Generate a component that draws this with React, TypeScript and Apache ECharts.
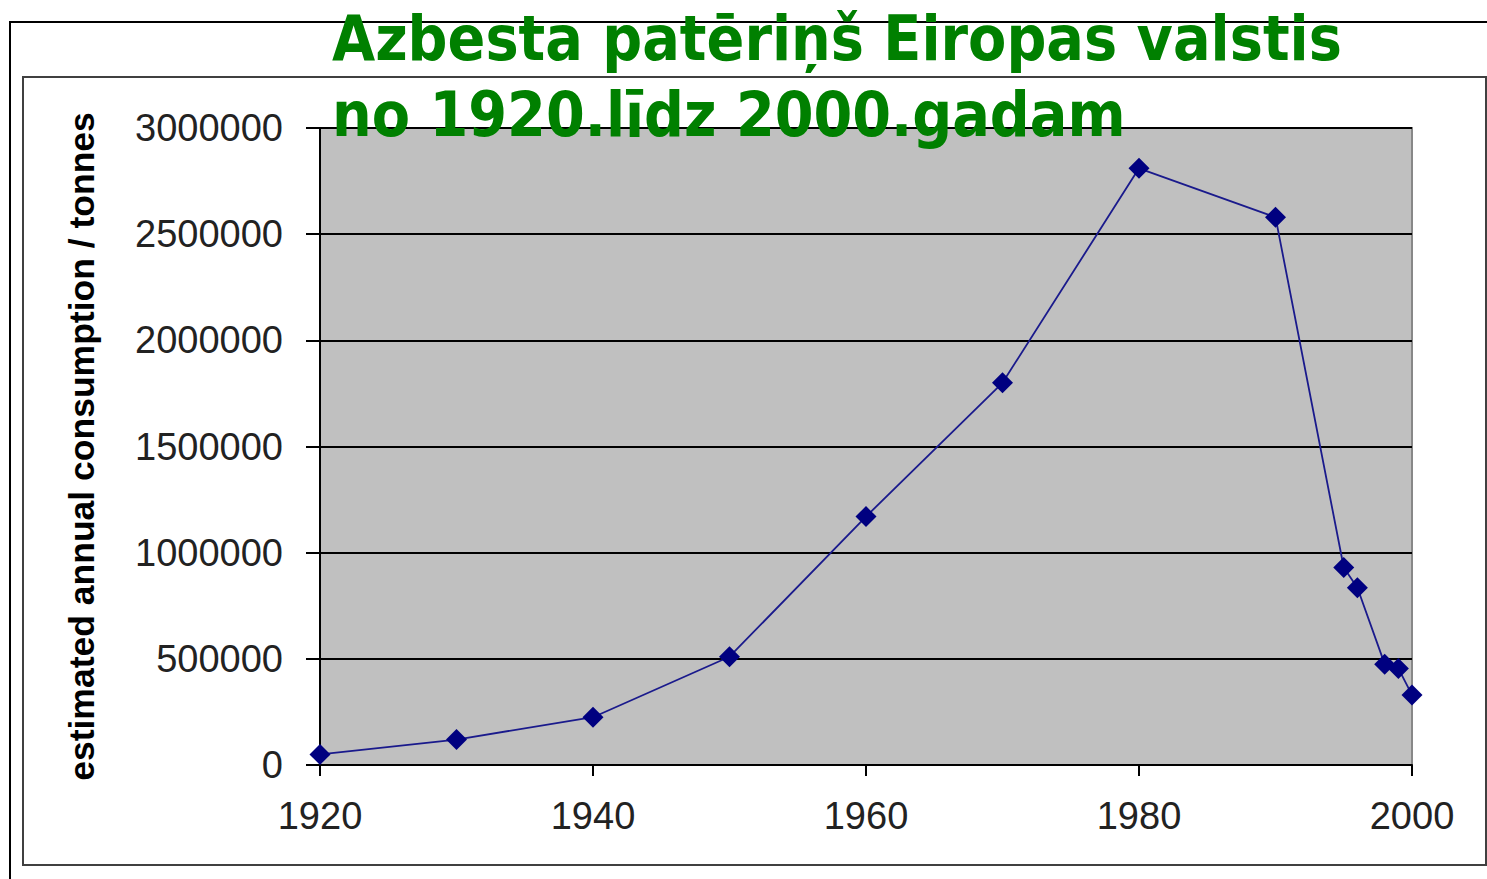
import React, { useEffect, useRef } from "react";
import * as echarts from "echarts";

const years = [1920, 1930, 1940, 1950, 1960, 1970, 1980, 1990, 1995, 1996, 1998, 1999, 2000];
const consumption = [50000, 120000, 225000, 510000, 1170000, 1800000, 2810000, 2580000, 930000, 835000, 475000, 455000, 330000];
const titleLines = ["Azbesta patēriņš Eiropas valstis", "no 1920.līdz 2000.gadam"];
const yAxisName = "estimated annual consumption / tonnes";

export default function App() {
  const ref = useRef<HTMLDivElement>(null);
  useEffect(() => {
    document.body.style.margin = "0";
    const chart = echarts.init(ref.current!, undefined, { renderer: "svg" });
    chart.setOption({
      animation: false,
      backgroundColor: "#ffffff",
      title: {
        text: titleLines.join("\n"),
        left: 332,
        top: 0,
        padding: 0,
        textStyle: {
          color: "#008000",
          fontSize: 62,
          fontWeight: "bold",
          fontFamily: "DejaVu Sans Condensed, DejaVu Sans",
          lineHeight: 76,
        },
        z: 10,
      },
      graphic: [
        { type: "rect", shape: { x: 10, y: 22, width: 1490, height: 900 }, style: { fill: "none", stroke: "#000", lineWidth: 2 }, z: -10 },
        { type: "rect", shape: { x: 23, y: 77, width: 1463, height: 788 }, style: { fill: "none", stroke: "#404040", lineWidth: 2 }, z: -10 },
      ],
      grid: {
        left: 320,
        top: 128,
        width: 1092,
        height: 637,
        show: true,
        backgroundColor: "#C0C0C0",
        borderColor: "#888888",
        borderWidth: 2,
      },
      xAxis: {
        type: "value",
        min: 1920,
        max: 2000,
        interval: 20,
        axisLine: { show: true, lineStyle: { color: "#000", width: 2 } },
        axisTick: { show: true, length: 11, lineStyle: { color: "#000", width: 2 } },
        splitLine: { show: false },
        axisLabel: { margin: 32, fontSize: 38, color: "#222", fontFamily: "Liberation Sans, Arial", formatter: (v: number) => String(v) },
      },
      yAxis: {
        type: "value",
        min: 0,
        max: 3000000,
        interval: 500000,
        name: yAxisName,
        nameLocation: "middle",
        nameGap: 220,
        nameTextStyle: { fontSize: 35.5, fontWeight: "bold", color: "#000", fontFamily: "Liberation Sans, Arial" },
        axisLine: { show: true, lineStyle: { color: "#000", width: 2 } },
        axisTick: { show: true, length: 14, lineStyle: { color: "#000", width: 2 } },
        splitLine: { show: true, lineStyle: { color: "#000", width: 2 } },
        axisLabel: { margin: 37, fontSize: 38, color: "#222", fontFamily: "Liberation Sans, Arial", formatter: (v: number) => String(v) },
      },
      series: [
        {
          type: "line",
          data: years.map((y, i) => [y, consumption[i]]),
          symbol: "diamond",
          symbolSize: 21,
          itemStyle: { color: "#000080" },
          lineStyle: { color: "#1a1a8c", width: 1.8 },
          z: 5,
        },
      ],
    });
    return () => chart.dispose();
  }, []);
  return <div ref={ref} style={{ width: 1487, height: 879 }} />;
}
